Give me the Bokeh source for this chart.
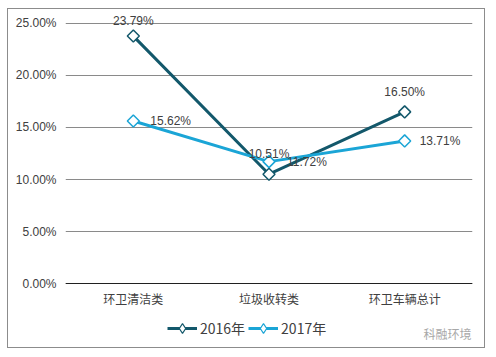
import numpy as np
from bokeh.plotting import figure
from bokeh.models import (ColumnDataSource, Legend, LegendItem, NumeralTickFormatter,
                          FixedTicker, Range1d, Label, LabelSet, Span)
from bokeh.core.properties import value
from bokeh.embed import file_html
from bokeh.resources import INLINE

categories = ["环卫清洁类", "垃圾收转类", "环卫车辆总计"]
series_2016 = [0.2379, 0.1051, 0.1650]
series_2017 = [0.1562, 0.1172, 0.1371]
labels_2016 = ["23.79%", "10.51%", "16.50%"]
labels_2017 = ["15.62%", "11.72%", "13.71%"]
y_ticks = [0.0, 0.05, 0.10, 0.15, 0.20, 0.25]

c2016 = "#13586b"
c2017 = "#1ba5d6"
txt = "#404040"
latin = "Liberation Sans"
cjk = "Noto Sans CJK SC"

# frame spans the full inner height; the value axis runs 0..25% inside it
p = figure(x_range=categories, y_range=Range1d(-0.06346, 0.26346), width=478, height=340,
           output_backend="svg", toolbar_location=None, x_axis_location=None,
           min_border_left=57, min_border_right=14, min_border_top=0, min_border_bottom=0)
p.margin = (8, 0, 0, 7)
p.styles = {"border": "1px solid #8c8c8c"}
p.outline_line_color = None
p.background_fill_color = "white"

p.yaxis.ticker = FixedTicker(ticks=y_ticks)
p.yaxis.formatter = NumeralTickFormatter(format="0.00%")
p.yaxis.axis_line_color = None
p.yaxis.major_tick_line_color = None
p.yaxis.minor_tick_line_color = None
p.yaxis.major_tick_out = 0
p.yaxis.major_label_text_font = latin
p.yaxis.major_label_text_font_size = "12px"
p.yaxis.major_label_text_color = txt
p.yaxis.major_label_standoff = 9

p.xgrid.grid_line_color = None
p.ygrid.grid_line_color = "#8a8a8a"
p.ygrid.grid_line_width = 1

# category axis line at 0%
p.add_layout(Span(location=0, dimension="width", line_color="#202020", line_width=1))

cat_src = ColumnDataSource(dict(x=categories, y=[0] * len(categories), t=categories))
p.add_layout(LabelSet(x="x", y="y", text="t", source=cat_src, y_offset=-15,
                      text_align="center", text_baseline="middle", text_font=value(cjk),
                      text_font_size="12px", text_color=txt))

src16 = ColumnDataSource(dict(x=categories, y=series_2016, t=labels_2016,
                              xo=[0, 0, 0], yo=[15, 20, 20]))
src17 = ColumnDataSource(dict(x=categories, y=series_2017, t=labels_2017,
                              xo=[17, 18, 15], yo=[0, 0, 0]))

l16 = p.line("x", "y", source=src16, line_color=c2016, line_width=3)
m16 = p.scatter("x", "y", source=src16, marker="square", angle=np.pi / 4, size=8.5,
                fill_color="white", line_color=c2016, line_width=1.5)
l17 = p.line("x", "y", source=src17, line_color=c2017, line_width=3)
m17 = p.scatter("x", "y", source=src17, marker="square", angle=np.pi / 4, size=8.5,
                fill_color="white", line_color=c2017, line_width=1.5)
# legend-only diamond glyphs (hidden in the plot)
d16 = p.scatter("x", "y", source=src16, marker="diamond", size=11,
                fill_color="white", line_color=c2016, line_width=1.2, visible=False)
d17 = p.scatter("x", "y", source=src17, marker="diamond", size=11,
                fill_color="white", line_color=c2017, line_width=1.2, visible=False)

p.add_layout(LabelSet(x="x", y="y", text="t", source=src16, x_offset="xo", y_offset="yo",
                      text_align="center", text_baseline="middle", text_font=value(latin),
                      text_font_size="12px", text_color=txt))
p.add_layout(LabelSet(x="x", y="y", text="t", source=src17, x_offset="xo", y_offset="yo",
                      text_align="left", text_baseline="middle", text_font=value(latin),
                      text_font_size="12px", text_color=txt))

legend = Legend(items=[LegendItem(label="2016年", renderers=[l16, d16]),
                       LegendItem(label="2017年", renderers=[l17, d17])],
                orientation="horizontal", location=(102, 9),
                glyph_width=30, glyph_height=24, label_height=14, label_standoff=3,
                spacing=3, padding=0, margin=0, border_line_color=None,
                background_fill_alpha=0, inactive_fill_alpha=0, label_text_font=cjk,
                label_text_font_size="14px", label_text_color=txt)
p.add_layout(legend, "center")

p.add_layout(Label(x=3, y=-0.048, x_offset=-1, text="科融环境", text_font=cjk,
                   text_font_size="12px", text_color="#a8a8a8",
                   text_baseline="middle", text_align="right"))

open("out.html", "w").write(file_html(p, INLINE))
